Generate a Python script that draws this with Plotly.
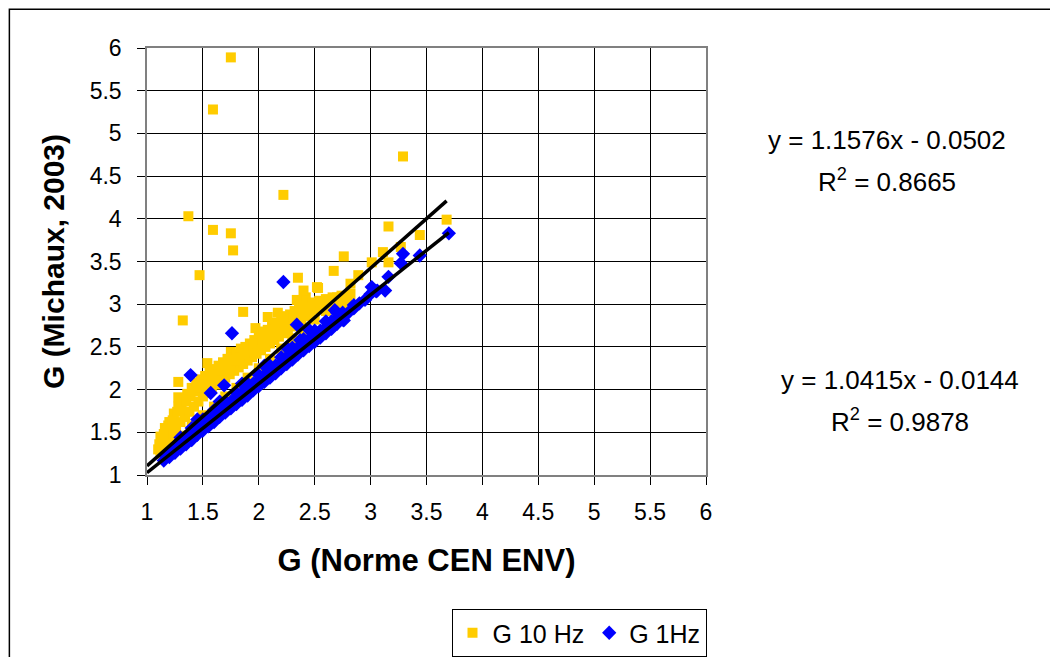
import plotly.graph_objects as go

# G 10 Hz series (x = G Norme CEN ENV, y = G Michaux 2003)
g10_x = [1.75, 1.59, 1.37, 1.59, 1.75, 1.77, 2.22, 1.47, 1.32, 1.86, 3.29, 3.68, 3.44, 3.16,
         2.35, 2.76, 2.67, 3.11, 3.16, 3.01, 2.89, 2.82, 3.27, 2.53, 2.42, 2.70, 2.64, 1.97,
         1.75, 1.54, 1.28, 1.28, 2.08, 2.12, 2.17, 2.19, 2.40, 2.46, 2.52, 2.34,
         1.10, 1.12, 1.14, 1.16, 1.18, 1.20, 1.22, 1.24, 1.26, 1.28, 1.30, 1.32, 1.34, 1.36,
         1.38, 1.40, 1.42, 1.44, 1.46, 1.48, 1.50, 1.52, 1.54, 1.56, 1.58, 1.60, 1.62, 1.64,
         1.66, 1.68, 1.70, 1.72, 1.74, 1.76, 1.78, 1.80, 1.82, 1.84, 1.86, 1.88, 1.90, 1.92,
         1.94, 1.96, 1.98, 2.00, 2.02, 2.04, 2.06, 2.08, 2.10, 2.12, 2.14, 2.16, 2.18, 2.20,
         2.22, 2.24, 2.26, 2.28, 2.30, 2.32, 2.34, 2.36, 2.38, 2.40, 2.42, 2.44, 2.46, 2.48,
         2.50, 2.54, 2.56, 2.60, 2.62, 2.66, 2.70, 2.74, 2.78, 2.82,
         1.20, 1.40, 1.60, 1.80, 2.00, 2.20, 2.40, 2.60, 1.30, 1.50, 1.70, 1.90, 2.10, 2.30,
         2.50, 2.70, 1.12, 1.16, 1.24,
         1.11, 1.15, 1.19, 1.23, 1.27, 1.31, 1.35, 1.39, 1.43, 1.47, 1.51, 1.55, 1.59, 1.63,
         1.67, 1.71, 1.75, 1.79, 1.83, 1.87, 1.91, 1.95, 1.99, 2.03, 2.07, 2.11, 2.15, 2.19,
         2.23, 2.27, 2.31, 2.35, 2.39, 2.43, 2.47, 2.51, 2.55, 2.59, 2.63, 2.67, 2.71, 2.75,
         2.79]
g10_y = [5.89, 5.28, 4.03, 3.87, 3.83, 3.63, 4.28, 3.34, 2.81, 2.91, 4.73, 3.99, 3.81, 3.91,
         3.31, 3.56, 3.39, 3.61, 3.49, 3.49, 3.34, 3.24, 3.67, 3.19, 3.08, 3.08, 3.05, 2.72,
         2.44, 2.31, 2.09, 1.91, 2.85, 2.78, 2.90, 2.70, 3.16, 3.00, 3.20, 3.05,
         1.30, 1.45, 1.38, 1.55, 1.42, 1.62, 1.50, 1.72, 1.55, 1.80, 1.62, 1.88, 1.68, 1.95,
         1.74, 2.02, 1.80, 2.08, 1.86, 2.12, 1.92, 2.16, 1.96, 2.20, 2.02, 2.24, 2.06, 2.28,
         2.10, 2.32, 2.14, 2.36, 2.18, 2.38, 2.22, 2.42, 2.26, 2.48, 2.30, 2.50, 2.34, 2.54,
         2.38, 2.58, 2.42, 2.62, 2.46, 2.68, 2.50, 2.70, 2.54, 2.74, 2.58, 2.78, 2.62, 2.82,
         2.66, 2.86, 2.70, 2.88, 2.74, 2.92, 2.78, 2.95, 2.82, 2.98, 2.86, 3.00, 2.90, 3.02,
         2.94, 3.04, 2.96, 3.06, 3.00, 3.08, 3.02, 3.10, 3.00, 3.12,
         1.36, 1.58, 1.80, 2.02, 2.25, 2.48, 2.70, 2.92, 1.46, 1.70, 1.92, 2.14, 2.36, 2.60,
         2.82, 2.96, 1.25, 1.30, 1.40,
         1.36, 1.48, 1.58, 1.64, 1.74, 1.78, 1.86, 1.92, 1.98, 2.02, 2.06, 2.10, 2.14, 2.18,
         2.22, 2.26, 2.30, 2.34, 2.38, 2.42, 2.46, 2.50, 2.54, 2.58, 2.62, 2.66, 2.70, 2.74,
         2.78, 2.82, 2.84, 2.88, 2.92, 2.94, 2.96, 2.98, 3.02, 3.00, 3.04, 3.00, 3.06, 3.04,
         3.08]

# G 1Hz series
g1_x = [1.15, 1.17, 1.20, 1.22, 1.25, 1.27, 1.30, 1.32, 1.35, 1.37, 1.40, 1.42, 1.45, 1.47,
        1.50, 1.52, 1.55, 1.57, 1.60, 1.62, 1.65, 1.67, 1.70, 1.72, 1.75, 1.77, 1.80, 1.82,
        1.85, 1.87, 1.90, 1.92, 1.95, 1.97, 2.00, 2.02, 2.05, 2.07, 2.10, 2.12, 2.15, 2.17,
        2.20, 2.22, 2.25, 2.27, 2.30, 2.32, 2.35, 2.37, 2.40, 2.42, 2.45, 2.47, 2.50, 2.52,
        2.55, 2.57, 2.60, 2.62, 2.65, 2.67, 2.70, 2.72, 2.75, 2.80, 2.85, 2.90, 2.95, 3.00,
        3.05,
        1.30, 1.40, 1.50, 1.60, 1.70, 1.80, 1.90, 2.00, 2.10, 2.20, 2.30, 2.40, 2.50, 2.60,
        2.70,
        1.25, 1.35, 1.45, 1.55, 1.65, 1.75, 1.85, 1.95, 2.05, 2.15, 2.25, 2.35, 2.45, 2.55,
        2.65, 2.75,
        1.45, 1.65, 1.85, 2.05, 2.25, 2.45,
        2.22, 1.39, 1.76, 2.34, 3.70, 3.44, 3.29, 3.27, 3.16, 3.01, 3.13, 2.68, 2.85, 2.76,
        2.37, 3.06, 1.57, 1.69]
g1_y = [1.17, 1.22, 1.21, 1.28, 1.26, 1.33, 1.31, 1.39, 1.36, 1.44, 1.41, 1.49, 1.47, 1.55,
        1.52, 1.60, 1.57, 1.66, 1.62, 1.72, 1.68, 1.77, 1.73, 1.82, 1.78, 1.87, 1.83, 1.92,
        1.88, 1.97, 1.93, 2.02, 1.99, 2.07, 2.04, 2.12, 2.09, 2.17, 2.14, 2.23, 2.19, 2.28,
        2.25, 2.33, 2.30, 2.38, 2.35, 2.44, 2.41, 2.49, 2.46, 2.54, 2.51, 2.60, 2.56, 2.65,
        2.61, 2.69, 2.66, 2.74, 2.71, 2.80, 2.77, 2.86, 2.82, 2.90, 2.95, 3.01, 3.05, 3.12,
        3.15,
        1.44, 1.55, 1.65, 1.76, 1.86, 1.96, 2.07, 2.17, 2.28, 2.38, 2.49, 2.59, 2.69, 2.80,
        2.90,
        1.34, 1.44, 1.55, 1.65, 1.76, 1.86, 1.96, 2.07, 2.17, 2.28, 2.38, 2.49, 2.59, 2.69,
        2.80, 2.90,
        1.65, 1.86, 2.07, 2.28, 2.49, 2.70,
        3.26, 2.17, 2.66, 2.76, 3.83, 3.57, 3.59, 3.48, 3.32, 3.20, 3.16, 2.93, 2.99, 2.81,
        2.58, 3.16, 1.96, 2.05]

# linear trendlines (slope, intercept, R^2)
fit10 = (1.1576, -0.0502, 0.8665)
fit1 = (1.0415, -0.0144, 0.9878)

font_reg = "Liberation Sans, Arial, sans-serif"

# page is offset by the 8px body margin; plot box wanted at page x 146.5-706, y 47.5-475
W, H = 1050, 649
PL, PR, PT, PB = 146.5, 706.0, 47.5, 475.0


def px_to_paper(xp, yp):
    return (xp - PL) / (PR - PL), (PB - yp) / (PB - PT)


fig = go.Figure()

fig.add_trace(go.Scatter(x=g10_x, y=g10_y, mode="markers", name="G 10 Hz",
                         marker=dict(symbol="square", size=10, color="#FFCC00", line=dict(width=0))))
fig.add_trace(go.Scatter(x=g1_x, y=g1_y, mode="markers", name="G 1Hz",
                         marker=dict(symbol="diamond", size=11, color="#0000FF", line=dict(width=0))))

# trendlines
for fit, xs in [(fit10, g10_x), (fit1, g1_x)]:
    lx = [1.0, max(xs)]
    ly = [fit[0] * v + fit[1] for v in lx]
    fig.add_trace(go.Scatter(x=lx, y=ly, mode="lines", showlegend=False,
                             line=dict(color="black", width=3.5), hoverinfo="skip"))

axis_common = dict(
    range=[1, 6], dtick=0.5, showgrid=True, gridcolor="#000000", gridwidth=1,
    showline=True, linecolor="#808080", linewidth=1.5, mirror=True,
    ticks="outside", ticklen=8, tickcolor="#000000", zeroline=False, automargin=False,
    tickfont=dict(family=font_reg, size=23, color="black"),
)

fig.update_layout(
    width=W, height=H,
    margin=dict(l=PL - 8, r=W - (PR - 8), t=PT - 8, b=H - (PB - 8)),
    paper_bgcolor="white", plot_bgcolor="white",
    font=dict(family=font_reg, color="black"),
    xaxis=dict(axis_common, ticklabelstandoff=8,
               title=dict(text="<b>G (Norme CEN ENV)</b>",
                          font=dict(family=font_reg, size=31), standoff=25)),
    yaxis=dict(axis_common, ticklabelstandoff=11,
               title=dict(text="<b>G (Michaux, 2003)</b>",
                          font=dict(family=font_reg, size=30), standoff=16)),
    legend=dict(orientation="h", xref="container", yref="container",
                x=(579 - 8) / W, xanchor="center",
                y=0.0, yanchor="bottom",
                bordercolor="black", borderwidth=1, font=dict(family=font_reg, size=25),
                itemwidth=30),
    showlegend=True,
)

# trendline equations
for fit, cx, y1, y2 in [(fit10, 887, 140, 180), (fit1, 900, 380, 420)]:
    ax, ay1 = px_to_paper(cx, y1)
    _, ay2 = px_to_paper(cx, y2)
    fig.add_annotation(x=ax, y=ay1, xref="paper", yref="paper", showarrow=False,
                       text=f"y = {fit[0]:.4f}x - {abs(fit[1]):.4f}",
                       font=dict(family=font_reg, size=26), xanchor="center", yanchor="middle")
    fig.add_annotation(x=ax, y=ay2, xref="paper", yref="paper", showarrow=False,
                       text=f"R<sup>2</sup> = {fit[2]:.4f}",
                       font=dict(family=font_reg, size=26), xanchor="center", yanchor="middle")

# outer chart frame (left/top edges visible, right/bottom run off the picture)
fx0, fy1 = px_to_paper(8.75, 8.75)
fig.add_shape(type="rect", xref="paper", yref="paper",
              x0=fx0, x1=1.7, y0=-0.6, y1=fy1,
              line=dict(color="black", width=1.5), layer="below")

fig.write_html("out.html")
